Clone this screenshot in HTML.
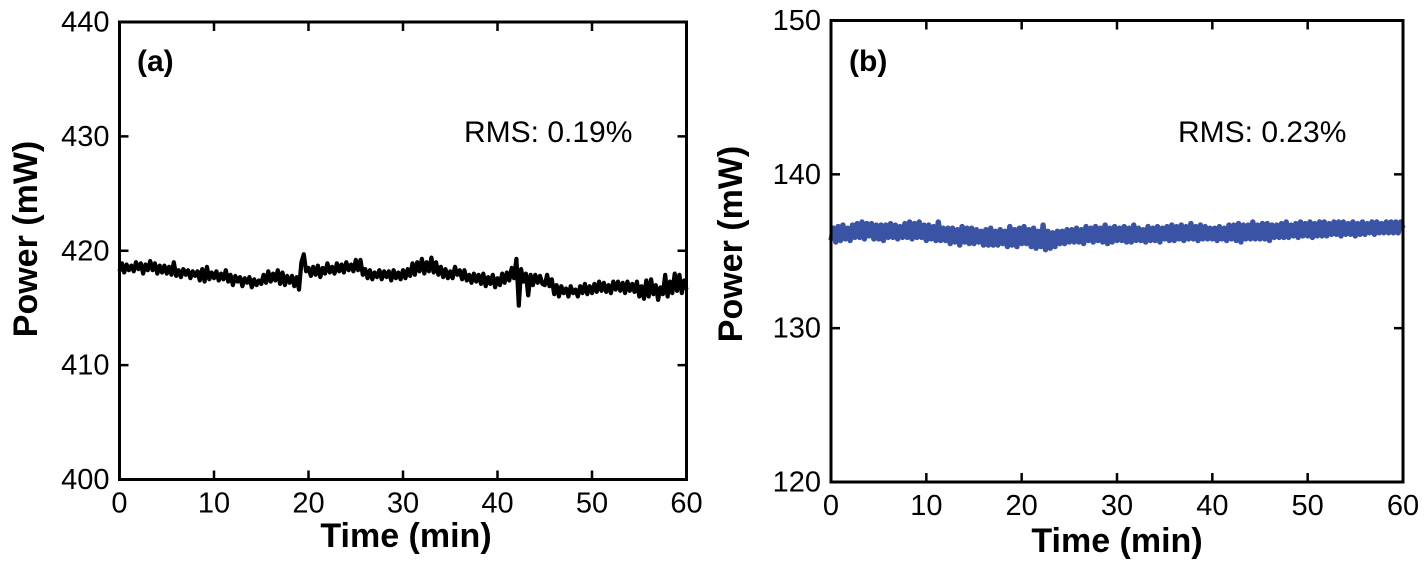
<!DOCTYPE html>
<html>
<head>
<meta charset="utf-8">
<style>
html,body{margin:0;padding:0;background:#fff;width:1424px;height:574px;overflow:hidden}
svg{display:block;font-family:"Liberation Sans",Arial,sans-serif;filter:blur(0.3px)}
</style>
</head>
<body>
<svg id="figure" width="1424" height="574" viewBox="0 0 1424 574" xmlns="http://www.w3.org/2000/svg"></svg>
<script>
const xTicks = [0, 10, 20, 30, 40, 50, 60];
const yTicksA = [400, 410, 420, 430, 440];
const yTicksB = [120, 130, 140, 150];
const sampleMinutes = 0.25;
const powerA = [
418.2,418.9,418.1,418.8,418.3,418.7,418.2,419.0,418.4,418.9,418.0,418.8,418.3,419.1,418.3,418.9,418.0,418.7,418.1,418.7,
418.0,418.6,417.9,419.0,417.8,418.3,417.7,418.4,417.9,418.3,417.6,418.2,417.8,418.2,417.4,418.4,417.3,418.6,417.5,418.1,
417.6,418.2,417.4,418.0,417.5,418.3,417.3,417.9,417.0,417.8,417.3,417.7,416.9,417.6,417.2,417.7,416.8,417.5,417.0,417.4,
417.1,417.9,417.2,418.2,417.3,418.0,417.4,418.3,417.1,418.1,417.0,417.8,417.2,417.8,416.9,417.7,416.6,419.0,419.7,418.2,
418.5,417.8,418.6,417.9,418.7,417.7,418.5,418.0,418.9,418.1,418.6,418.0,418.9,418.2,418.8,418.1,419.0,418.3,418.8,418.2,
419.2,418.3,419.2,417.9,418.4,417.6,418.3,417.5,418.1,417.7,418.3,417.5,418.2,417.7,418.2,417.4,418.3,417.6,418.1,417.5,
418.3,417.6,418.4,417.8,418.9,417.9,419.0,418.2,419.3,418.0,419.0,418.2,419.4,418.1,419.0,417.9,418.6,417.7,418.4,417.6,
418.2,417.6,418.6,417.9,418.3,417.5,418.3,417.4,417.9,417.2,418.0,417.3,417.9,417.1,418.0,416.9,417.7,417.1,417.9,416.8,
417.6,417.0,418.0,417.2,418.1,417.4,418.5,417.6,419.3,415.2,418.4,417.3,418.0,416.1,417.9,417.0,417.9,417.2,417.8,417.1,
417.0,417.9,416.9,417.5,416.2,417.0,416.0,416.9,416.3,416.7,416.0,416.9,416.3,416.6,416.0,416.9,416.3,417.1,416.2,416.9,
416.3,417.1,416.4,417.3,416.5,417.2,416.4,417.0,416.3,417.3,416.6,417.3,416.5,417.2,416.3,417.3,416.5,417.1,416.4,417.3,
416.0,416.9,415.8,417.4,416.0,417.5,416.2,417.0,415.7,416.8,416.2,417.9,416.0,417.3,416.3,418.0,416.5,417.9,416.3,417.4,416.6
];
const powerB = [
135.7,136.5,135.6,136.6,135.7,136.7,135.8,136.5,135.7,136.7,135.9,136.8,135.9,136.9,135.8,136.8,136.0,136.8,135.8,136.7,
135.8,136.7,135.7,136.7,135.9,136.8,135.9,136.7,135.8,136.6,135.9,136.8,135.9,136.9,135.8,136.8,135.9,136.9,135.9,136.7,
135.7,136.7,135.8,136.6,135.7,136.9,135.7,136.5,135.7,136.5,135.5,136.5,135.6,136.4,135.4,136.6,135.6,136.5,135.5,136.5,
135.5,136.4,135.6,136.3,135.4,136.4,135.4,136.5,135.4,136.3,135.4,136.4,135.5,136.3,135.3,136.6,135.4,136.4,135.3,136.5,
135.5,136.6,135.5,136.4,135.3,136.5,135.2,136.3,135.3,136.7,135.1,136.3,135.2,136.2,135.3,136.3,135.5,136.3,135.5,136.4,
135.6,136.4,135.6,136.5,135.6,136.4,135.5,136.6,135.7,136.5,135.6,136.6,135.7,136.5,135.6,136.7,135.5,136.5,135.6,136.6,
135.7,136.5,135.7,136.6,135.6,136.5,135.6,136.7,135.7,136.5,135.7,136.4,135.6,136.6,135.7,136.5,135.7,136.6,135.6,136.5,
135.8,136.6,135.7,136.7,135.7,136.6,135.8,136.7,135.7,136.6,135.8,136.8,135.8,136.6,135.7,136.7,135.8,136.6,135.8,136.5,
135.8,136.5,135.7,136.6,135.8,136.5,135.7,136.7,135.8,136.7,135.7,136.8,135.6,136.7,135.8,136.7,135.8,136.9,135.8,136.7,
135.8,136.8,135.8,136.8,135.7,136.7,135.9,136.7,135.9,136.8,135.9,136.9,135.9,136.7,136.0,136.8,135.9,136.9,136.0,136.8,
136.0,136.9,135.9,136.8,136.0,136.9,136.0,136.9,136.0,136.8,136.1,136.9,136.1,136.9,136.0,136.9,136.1,136.8,136.1,136.9,
136.0,136.8,136.1,136.9,136.1,136.8,136.2,136.9,136.1,136.9,136.2,136.8,136.2,136.9,136.2,136.9,136.2,136.9,136.2,136.9,136.5
];

const NS = 'http://www.w3.org/2000/svg';
const fig = document.getElementById('figure');

function svgEl(tag, parent, props, text) {
  const el = document.createElementNS(NS, tag);
  for (const k in props) el.setAttribute(k, props[k]);
  if (text !== undefined) el.textContent = text;
  parent.appendChild(el);
  return el;
}

function drawPanel(cfg) {
  const g = svgEl('g', fig, {});
  
  
  const sx = v => cfg.left + (v - cfg.xTickVals[0]) / (cfg.xTickVals[cfg.xTickVals.length - 1] - cfg.xTickVals[0]) * (cfg.right - cfg.left);
  const sy = v => cfg.bottom - (v - cfg.yTickVals[0]) / (cfg.yTickVals[cfg.yTickVals.length - 1] - cfg.yTickVals[0]) * (cfg.bottom - cfg.top);

  const pts = cfg.values.map((v, i) => sx(i * sampleMinutes).toFixed(1) + ',' + sy(v).toFixed(1)).join(' ');
  const line = svgEl('polyline', g, {points: pts, fill: 'none', stroke: cfg.color, 'stroke-width': cfg.lineWidth, 'stroke-linejoin': 'round'});
  
  

  const frame = svgEl('rect', g, {x: cfg.left, y: cfg.top, width: cfg.right - cfg.left, height: cfg.bottom - cfg.top, fill: 'none', stroke: '#000', 'stroke-width': 3});
  
  

  cfg.xTickVals.forEach((t) => {
    const x = sx(t);
    if (t !== cfg.xTickVals[0] && t !== cfg.xTickVals[cfg.xTickVals.length - 1]) {
      const b = svgEl('line', g, {x1: x, x2: x, y1: cfg.bottom, y2: cfg.bottom - 9, stroke: '#000', 'stroke-width': 2.5});
      
      
      const a = svgEl('line', g, {x1: x, x2: x, y1: cfg.top, y2: cfg.top + 9, stroke: '#000', 'stroke-width': 2.5});
      
      
    }
    const lab = svgEl('text', g, {x: x, y: cfg.bottom + cfg.xLabelGap, 'text-anchor': 'middle', 'font-size': 29, fill: '#000'}, String(t));
    
    
  });

  cfg.yTickVals.forEach((t) => {
    const y = sy(t);
    if (t !== cfg.yTickVals[0] && t !== cfg.yTickVals[cfg.yTickVals.length - 1]) {
      const l = svgEl('line', g, {x1: cfg.left, x2: cfg.left + 9, y1: y, y2: y, stroke: '#000', 'stroke-width': 2.5});
      
      
      const r = svgEl('line', g, {x1: cfg.right, x2: cfg.right - 9, y1: y, y2: y, stroke: '#000', 'stroke-width': 2.5});
      
      
    }
    const lab = svgEl('text', g, {x: cfg.left - 10, y: y + 9.5, 'text-anchor': 'end', 'font-size': 29, fill: '#000'}, String(t));
    
    
  });

  const xt = svgEl('text', g, {x: cfg.xTitleX, y: cfg.xTitleY, 'text-anchor': 'middle', 'font-size': 34, 'font-weight': 'bold', fill: '#000'}, 'Time (min)');
  
  

  const yt = svgEl('text', g, {transform: 'translate(' + cfg.yTitleX + ',' + cfg.yTitleY + ') rotate(-90)', 'text-anchor': 'middle', 'font-size': 34, 'font-weight': 'bold', fill: '#000'}, 'Power (mW)');
  
  

  const tag = svgEl('text', g, {x: cfg.tagX, y: 71, 'font-size': 30, 'font-weight': 'bold', fill: '#000'}, cfg.tag);
  
  

  const rms = svgEl('text', g, {x: cfg.rmsX, y: 142, 'font-size': 30, fill: '#000'}, cfg.rms);
  
  
}

drawPanel({id: 'a', tag: '(a)', rms: 'RMS: 0.19%', values: powerA, xTickVals: xTicks, yTickVals: yTicksA,
  color: '#000', lineWidth: 4.2, left: 119.5, right: 686.5, top: 22, bottom: 479.5, xLabelGap: 33,
  xTitleX: 406, xTitleY: 547, yTitleX: 37, yTitleY: 239, tagX: 137, rmsX: 464});
drawPanel({id: 'b', tag: '(b)', rms: 'RMS: 0.23%', values: powerB, xTickVals: xTicks, yTickVals: yTicksB,
  color: '#3a53a4', lineWidth: 5.4, left: 831, right: 1403, top: 20.5, bottom: 482, xLabelGap: 33,
  xTitleX: 1117, xTitleY: 552, yTitleX: 742, yTitleY: 244, tagX: 849, rmsX: 1178});
</script>
</body>
</html>
